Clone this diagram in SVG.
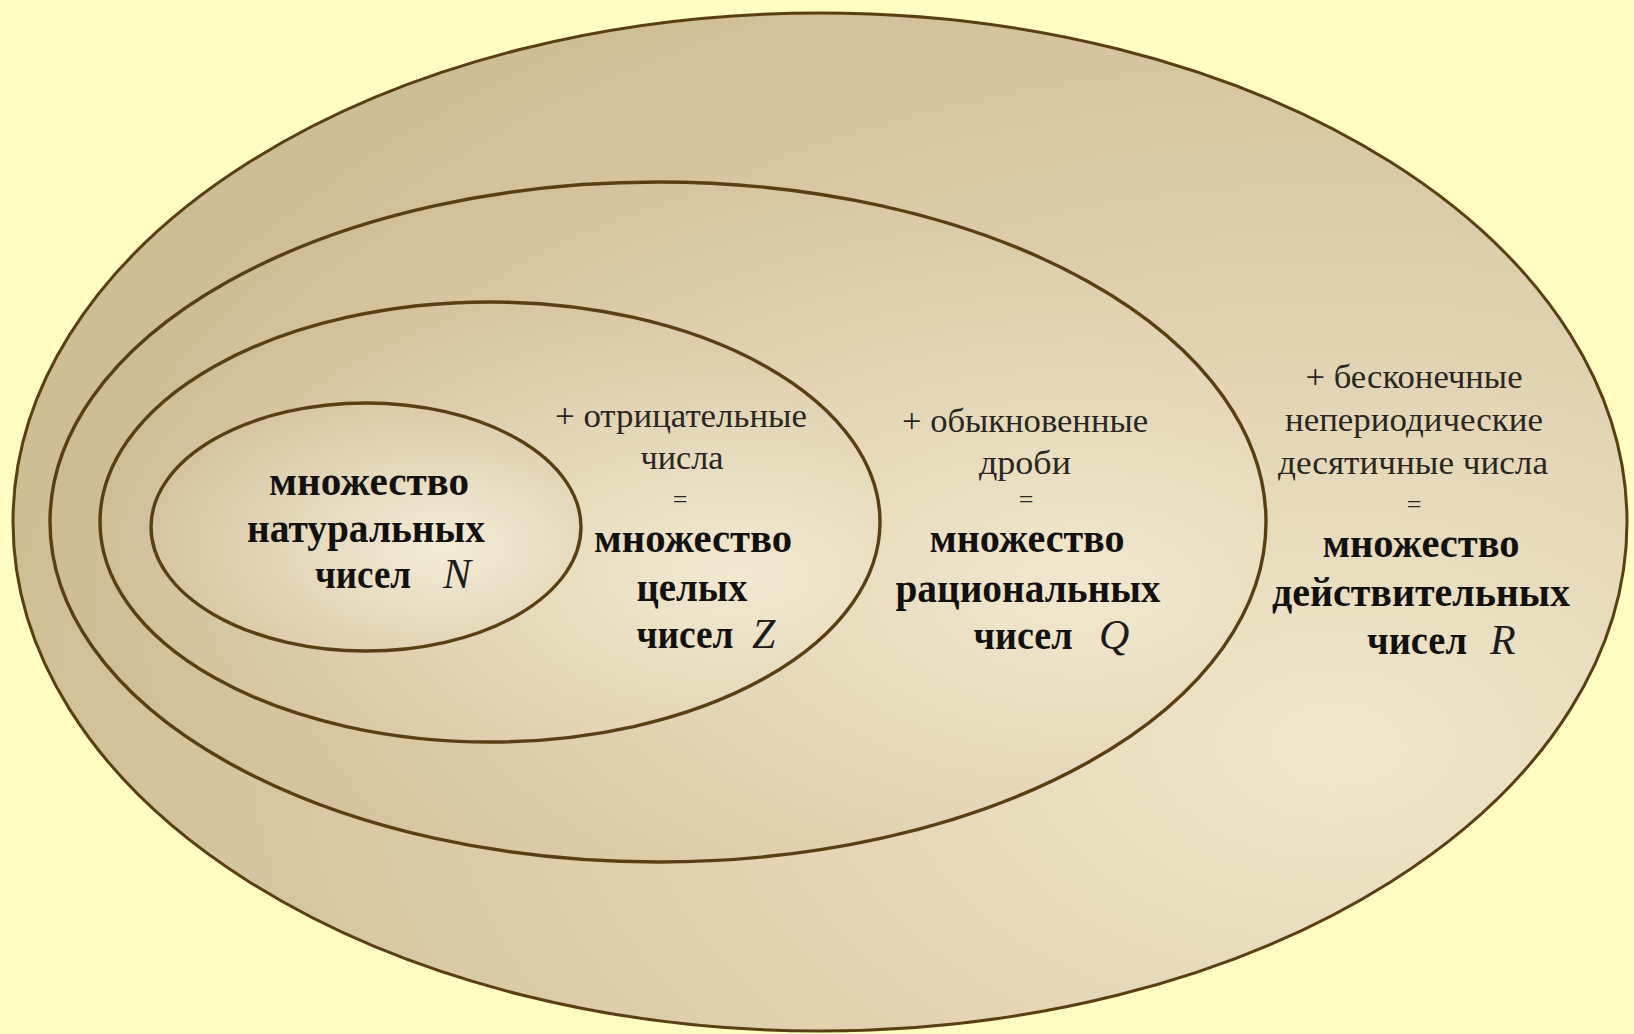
<svg xmlns="http://www.w3.org/2000/svg" width="1634" height="1034" viewBox="0 0 1634 1034">
<style>
.set{stroke:#5a3f12;stroke-width:3.4}
.b{font-family:"Liberation Serif","Times New Roman",serif;font-weight:bold;font-size:42px;fill:#121110;text-anchor:middle}
.r{font-family:"Liberation Serif","Times New Roman",serif;font-size:33px;fill:#2a2622;text-anchor:middle}
.eq{font-family:"Liberation Serif","Times New Roman",serif;font-size:26px;fill:#2a2622;text-anchor:middle}
.i{font-family:"Liberation Serif","Times New Roman",serif;font-style:italic;font-size:42px;fill:#1e1c1a}
</style>
<defs>
<radialGradient id="gR" cx="0.82" cy="0.72" r="0.85" fx="0.82" fy="0.72">
<stop offset="0" stop-color="#f1e6cb"/><stop offset="1" stop-color="#cfbd95"/>
</radialGradient>
<radialGradient id="gQ" cx="0.85" cy="0.6" r="0.85" fx="0.85" fy="0.6">
<stop offset="0" stop-color="#f2e7cd"/><stop offset="1" stop-color="#cebc94"/>
</radialGradient>
<radialGradient id="gZ" cx="0.82" cy="0.62" r="0.85" fx="0.82" fy="0.62">
<stop offset="0" stop-color="#f3e9d0"/><stop offset="1" stop-color="#cfbd96"/>
</radialGradient>
<radialGradient id="gN" cx="0.68" cy="0.58" r="0.8" fx="0.68" fy="0.58">
<stop offset="0" stop-color="#f5ecd6"/><stop offset="1" stop-color="#d0be98"/>
</radialGradient>
</defs>
<rect x="0" y="0" width="1634" height="1034" fill="#fffdc2"/>
<g id="set-R">
<ellipse class="set" cx="820" cy="522" rx="807" ry="509" fill="url(#gR)" style="stroke-width:3"/>
<text class="r" x="1414" y="388" textLength="217" lengthAdjust="spacingAndGlyphs">+ бесконечные</text>
<text class="r" x="1414" y="431" textLength="258" lengthAdjust="spacingAndGlyphs">непериодические</text>
<text class="r" x="1413" y="474" textLength="270" lengthAdjust="spacingAndGlyphs">десятичные числа</text>
<text class="eq" x="1414" y="513">=</text>
<text class="b" x="1421" y="557" textLength="197" lengthAdjust="spacingAndGlyphs">множество</text>
<text class="b" x="1421" y="606" textLength="298" lengthAdjust="spacingAndGlyphs">действительных</text>
<text class="b" x="1417" y="654" textLength="100" lengthAdjust="spacingAndGlyphs">чисел</text>
<text class="i" x="1490" y="654">R</text>
</g>
<g id="set-Q">
<ellipse class="set" cx="658" cy="522" rx="608" ry="340" fill="url(#gQ)"/>
<text class="r" x="1025" y="432" textLength="246" lengthAdjust="spacingAndGlyphs">+ обыкновенные</text>
<text class="r" x="1025" y="474" textLength="92" lengthAdjust="spacingAndGlyphs">дроби</text>
<text class="eq" x="1026" y="508">=</text>
<text class="b" x="1027" y="552" textLength="195" lengthAdjust="spacingAndGlyphs">множество</text>
<text class="b" x="1028" y="602" textLength="265" lengthAdjust="spacingAndGlyphs">рациональных</text>
<text class="b" x="1023" y="649" textLength="99" lengthAdjust="spacingAndGlyphs">чисел</text>
<text class="i" x="1099" y="649">Q</text>
</g>
<g id="set-Z">
<ellipse class="set" cx="490" cy="522" rx="390" ry="220" fill="url(#gZ)"/>
<text class="r" x="681" y="427" textLength="252" lengthAdjust="spacingAndGlyphs">+ отрицательные</text>
<text class="r" x="682" y="469" textLength="83" lengthAdjust="spacingAndGlyphs">числа</text>
<text class="eq" x="680" y="508">=</text>
<text class="b" x="693" y="552" textLength="198" lengthAdjust="spacingAndGlyphs">множество</text>
<text class="b" x="692" y="601" textLength="111" lengthAdjust="spacingAndGlyphs">целых</text>
<text class="b" x="685" y="648" textLength="97" lengthAdjust="spacingAndGlyphs">чисел</text>
<text class="i" x="752" y="648">Z</text>
</g>
<g id="set-N">
<ellipse class="set" cx="366" cy="527" rx="215" ry="124" fill="url(#gN)"/>
<text class="b" x="369" y="495" textLength="200" lengthAdjust="spacingAndGlyphs">множество</text>
<text class="b" x="366" y="542" textLength="238" lengthAdjust="spacingAndGlyphs">натуральных</text>
<text class="b" x="363" y="588" textLength="96" lengthAdjust="spacingAndGlyphs">чисел</text>
<text class="i" x="443" y="588">N</text>
</g>
<g id="connectors"/>
</svg>
